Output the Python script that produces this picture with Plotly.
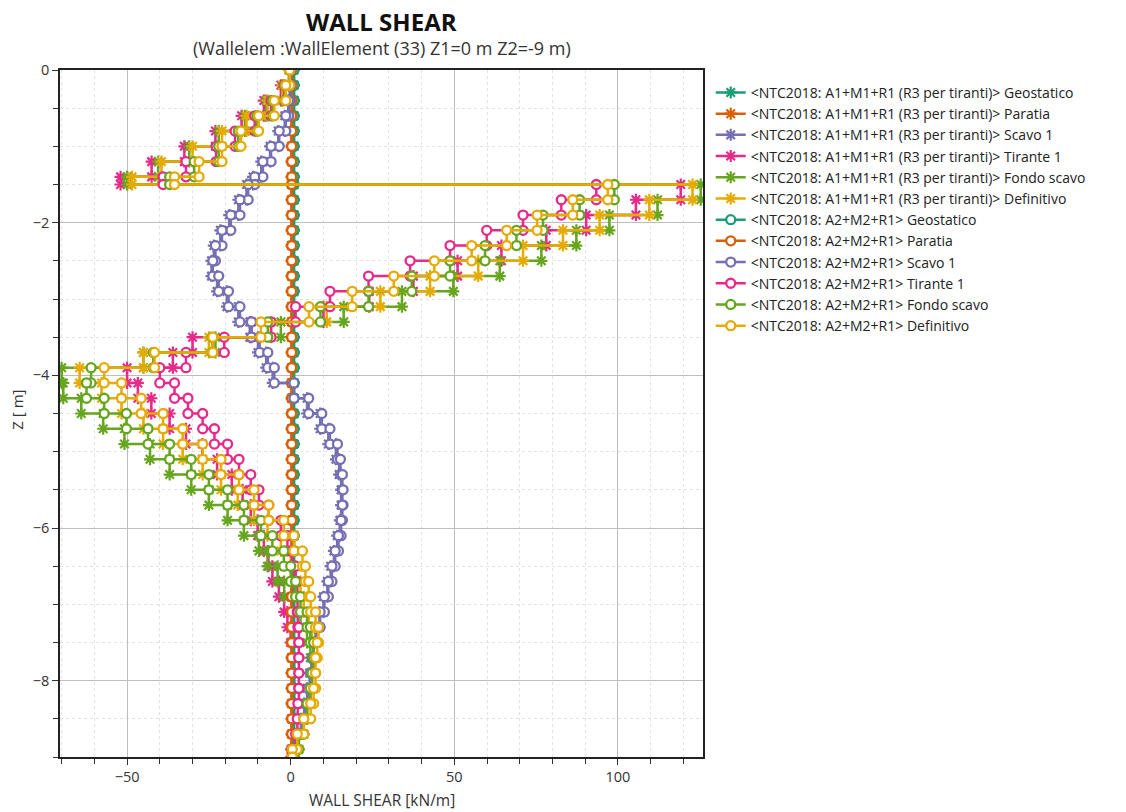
import plotly.graph_objects as go

# Element boundaries along the wall (m)
node_z = [0, -0.2, -0.4, -0.6, -0.8, -1.0, -1.2, -1.4, -1.5, -1.7, -1.9, -2.1, -2.3, -2.5,
          -2.7, -2.9, -3.1, -3.3, -3.5, -3.7, -3.9, -4.1, -4.3, -4.5, -4.7, -4.9, -5.1,
          -5.3, -5.5, -5.7, -5.9, -6.1, -6.3, -6.5, -6.7, -6.9, -7.1, -7.3, -7.5, -7.7,
          -7.9, -8.1, -8.3, -8.5, -8.7, -8.9, -9.0]

# Wall shear per element (kN/m)
a1_geostatico = [1.0, 1.0, 1.0, 1.0, 1.0, 1.0, 1.0, 1.0, 1.0, 1.0, 1.0, 1.0, 1.0, 1.0, 1.0, 1.0,
                 1.0, 1.0, 1.0, 1.0, 1.0, 1.0, 1.0, 1.0, 1.0, 1.0, 1.0, 1.0, 1.0, 1.0, 1.0, 1.0,
                 1.0, 1.0, 1.0, 1.0, 1.0, 1.0, 1.0, 1.0, 1.0, 1.0, 1.0, 1.0, 1.0, 1.0]
a1_paratia = [0.3, 0.3, 0.3, 0.3, 0.3, 0.3, 0.3, 0.3, 0.3, 0.3, 0.3, 0.3, 0.3, 0.3, 0.3, 0.3,
              0.3, 0.3, 0.3, 0.3, 0.3, 0.3, 0.3, 0.3, 0.3, 0.3, 0.3, 0.3, 0.3, 0.3, 0.3, 0.3,
              0.3, 0.3, 0.3, 0.3, 0.3, 0.3, 0.3, 0.3, 0.3, 0.3, 0.3, 0.3, 0.3, 0.3]
a1_scavo1 = [0, -0.3, -0.8, -1.8, -3.8, -6.3, -9, -11.5, -13.5, -16, -18.8, -21.5, -23.5, -24.2,
             -22.5, -19.5, -16, -12.5, -10, -7.5, -5.5, 0.5, 5, 9, 11.5, 13.8, 14.8, 15.4, 15.6,
             15.4, 15, 14.2, 13.2, 12.2, 11.2, 10, 8.8, 7.6, 6.8, 6.3, 5.8, 5, 4.1, 3.1, 1.9, 0.7]
a1_tirante1 = [-0.5, -3, -8.2, -15, -23, -32.5, -42.5, -52,
               119.2, 105.5, 90.3, 78.1, 64.4, 51, 37.5, 24, 10,
               -12, -30, -36, -50,
               -46.7, -42.6, -37, -32, -27, -22.5, -18, -14.7, -12.2, -10.1, -8.2, -6.8, -5.6,
               -3.6, -2, -1, 0, 0.5, 1, 1.2, 1.2, 1, 0.8, 0.5, 0.2]
a1_fondo = [-0.5, -2.5, -7.5, -14, -22, -31, -40.5, -50,
            125.3, 112.1, 97.4, 87.3, 76.6, 63.9, 49.7, 34, 16.2,
            -3, -23, -45, -70,
            -69.5, -64, -57.3, -50.8, -43, -37, -30.4, -25, -19.3, -14.3, -9.7, -7.1, -4, -2,
            1, 3, 5, 6, 6.5, 6.5, 6, 5, 4, 2.5, 1]
a1_definitivo = [-0.5, -2.5, -7, -13.5, -21, -30, -39.5, -48.5,
                 122.8, 109.6, 94.4, 83.2, 71, 57.3, 42.6, 27.4, 11,
                 -6, -25, -45, -64.5,
                 -57.8, -51.7, -45, -39, -33, -26.9, -21.3, -16.2, -11.2, -7.1, -3, 0, 1.5, 3,
                 4, 5.5, 6.5, 7, 7, 6.5, 6, 5, 3.5, 2, 0.8]
a2_geostatico = [1.0, 1.0, 1.0, 1.0, 1.0, 1.0, 1.0, 1.0, 1.0, 1.0, 1.0, 1.0, 1.0, 1.0, 1.0, 1.0,
                 1.0, 1.0, 1.0, 1.0, 1.0, 1.0, 1.0, 1.0, 1.0, 1.0, 1.0, 1.0, 1.0, 1.0, 1.0, 1.0,
                 1.0, 1.0, 1.0, 1.0, 1.0, 1.0, 1.0, 1.0, 1.0, 1.0, 1.0, 1.0, 1.0, 1.0]
a2_paratia = [0.3, 0.3, 0.3, 0.3, 0.3, 0.3, 0.3, 0.3, 0.3, 0.3, 0.3, 0.3, 0.3, 0.3, 0.3, 0.3,
              0.3, 0.3, 0.3, 0.3, 0.3, 0.3, 0.3, 0.3, 0.3, 0.3, 0.3, 0.3, 0.3, 0.3, 0.3, 0.3,
              0.3, 0.3, 0.3, 0.3, 0.3, 0.3, 0.3, 0.3, 0.3, 0.3, 0.3, 0.3, 0.3, 0.3]
a2_scavo1 = [0, -0.2, -0.6, -1.5, -3.5, -6, -8.5, -11, -13, -15.5, -18.3, -21, -23, -23.8,
             -22, -19, -15.5, -12, -9.5, -7, -5, 1, 5.5, 9.5, 12, 14.3, 15.2, 15.8, 16,
             15.8, 15.4, 14.6, 13.6, 12.6, 11.5, 10.3, 9, 7.8, 7, 6.5, 6, 5.2, 4.3, 3.3, 2, 0.8]
a2_tirante1 = [-0.3, -2, -6, -11, -17, -22.8, -32, -39,
               93.4, 82.7, 71, 59.9, 48.7, 36.5, 23.8, 12, 1.5,
               -6, -20.3, -32, -40,
               -35.5, -31.4, -26.9, -23.3, -19.3, -15.8, -12.2, -9.7, -6.7, -3, -1, 0.5, 1.5,
               2, 2, 2.2, 2.5, 2.5, 2.5, 2.5, 2.5, 2.2, 2, 1.5, 0.5]
a2_fondo = [-0.3, -1.8, -5.5, -10.3, -16, -22, -29.5, -37,
            98.9, 88.3, 77.1, 69, 59.4, 48.7, 37, 23.8, 9.1,
            -7, -24, -42, -61,
            -62.4, -57, -50.2, -43.6, -37, -30.4, -25, -19.3, -14.3, -9.1, -5.6, -2.1, 0, 1.5,
            3, 5, 6, 7, 7, 6.5, 6, 5, 4, 2.5, 1]
a2_definitivo = [-0.3, -1.5, -5, -9.8, -15.2, -21, -28, -35.5,
                 96.9, 86.2, 75.3, 66, 55.3, 43.9, 31.5, 18.8, 5.6,
                 -9.1, -23.8, -41.6, -57,
                 -51.7, -45.7, -39, -33, -26.9, -21.3, -15.8, -11.2, -6.7, -2.1, 1, 3.6, 4.5,
                 5.5, 6.1, 7.6, 8.5, 8.1, 7.6, 7.6, 7, 6.1, 4, 2, 0.5]

a1_prefix = "<NTC2018: A1+M1+R1 (R3 per tiranti)> "
a2_prefix = "<NTC2018: A2+M2+R1> "
stages = ["Geostatico", "Paratia", "Scavo 1", "Tirante 1", "Fondo scavo", "Definitivo"]
colors = ["#1b9e77", "#d95f02", "#7570b3", "#e7298a", "#66a61e", "#e6ab02"]
a1_series = [a1_geostatico, a1_paratia, a1_scavo1, a1_tirante1, a1_fondo, a1_definitivo]
a2_series = [a2_geostatico, a2_paratia, a2_scavo1, a2_tirante1, a2_fondo, a2_definitivo]


def step_xy(vals):
    xs, ys = [], []
    for j, v in enumerate(vals):
        xs += [v, v]
        ys += [node_z[j], node_z[j + 1]]
    return xs, ys


fig = go.Figure()
for stage, col, vals in zip(stages, colors, a1_series):
    xs, ys = step_xy(vals)
    fig.add_trace(go.Scatter(
        x=xs, y=ys, mode="lines+markers", name=a1_prefix + stage,
        line=dict(color=col, width=2.5),
        marker=dict(symbol="asterisk-open", size=10, color=col,
                    line=dict(color=col, width=2.2)),
    ))
for stage, col, vals in zip(stages, colors, a2_series):
    xs, ys = step_xy(vals)
    fig.add_trace(go.Scatter(
        x=xs, y=ys, mode="lines+markers", name=a2_prefix + stage,
        line=dict(color=col, width=2.5),
        marker=dict(symbol="circle", size=9, color="white",
                    line=dict(color=col, width=2.3)),
    ))

font = "Open Sans, Noto Sans, sans-serif"
fig.update_layout(
    width=1126, height=812,
    margin=dict(l=60, r=423, t=70, b=55),
    paper_bgcolor="white", plot_bgcolor="white",
    font=dict(family=font, size=14, color="#333333"),
    showlegend=True,
    legend=dict(x=1.012, y=0.99, xanchor="left", yanchor="top",
                font=dict(family=font, size=14, color="#222222"),
                bgcolor="rgba(0,0,0,0)", tracegroupgap=0),
    annotations=[
        dict(text="<b>WALL SHEAR</b>", x=0.5, y=1.07, xref="paper", yref="paper",
             showarrow=False, font=dict(family=font, size=24, color="#111111"),
             xanchor="center", yanchor="middle"),
        dict(text="(Wallelem :WallElement (33) Z1=0 m Z2=-9 m)", x=0.5, y=1.032,
             xref="paper", yref="paper", showarrow=False,
             font=dict(family=font, size=18, color="#333333"),
             xanchor="center", yanchor="middle"),
        dict(text="WALL SHEAR [kN/m]", x=0.5, y=-0.063, xref="paper", yref="paper",
             showarrow=False, font=dict(family=font, size=15.5, color="#333333"),
             xanchor="center", yanchor="middle"),
        dict(text="Z [ m]", x=-0.066, y=0.505, xref="paper", yref="paper",
             showarrow=False, textangle=-90, font=dict(family=font, size=15, color="#333333"),
             xanchor="center", yanchor="middle"),
    ],
)
fig.update_xaxes(
    range=[-70.5, 126], tick0=0, dtick=50, ticks="outside", ticklen=6,
    tickcolor="#333333", showline=True, linecolor="#222222", linewidth=1.5, mirror=True,
    showgrid=True, gridcolor="#bdbdbd", gridwidth=1, zeroline=False,
    tickfont=dict(size=14.5),
    minor=dict(dtick=10, ticks="outside", ticklen=5, tickcolor="#333333",
               showgrid=True, gridcolor="#e3e3e3", griddash="dot"),
)
fig.update_yaxes(
    range=[-9, 0], tick0=0, dtick=2, ticks="outside", ticklen=6,
    tickcolor="#333333", showline=True, linecolor="#222222", linewidth=1.5, mirror=True,
    showgrid=True, gridcolor="#bdbdbd", gridwidth=1, zeroline=False,
    tickfont=dict(size=14.5),
    minor=dict(dtick=0.5, ticks="outside", ticklen=5, tickcolor="#333333",
               showgrid=True, gridcolor="#e3e3e3", griddash="dot"),
)

fig.write_html("out.html")
